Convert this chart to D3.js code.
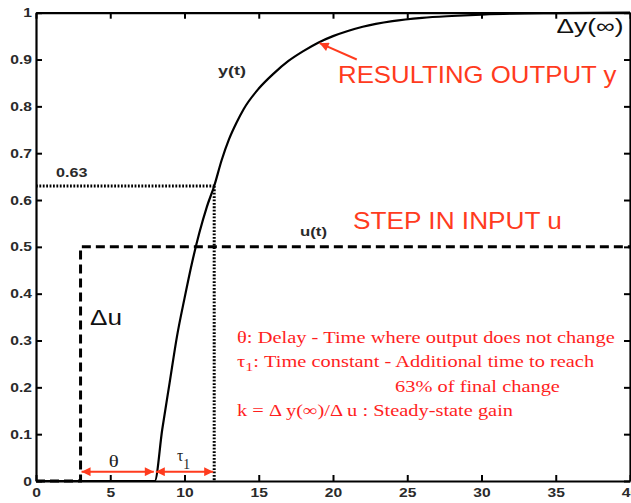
<!DOCTYPE html>
<html>
<head>
<meta charset="utf-8">
<script src="https://cdn.jsdelivr.net/npm/d3@7"></script>
<style>
  body { margin: 0; background: #fff; }
  text { font-family: Arial, "Liberation Sans", sans-serif; }
  .serif { font-family: "Liberation Serif", "Times New Roman", serif; }
</style>
</head>
<body>
<svg id="chart" width="631" height="503"></svg>
<script>
// ticks
const xTicks = [0, 5, 10, 15, 20, 25, 30, 35, 40];
const yTicks = [0, 0.1, 0.2, 0.3, 0.4, 0.5, 0.6, 0.7, 0.8, 0.9, 1];

// output y(t)
const outT = [0, 8, 8.5, 9, 9.5, 10, 10.5, 11, 11.5, 12, 12.5, 13, 13.5, 14, 15, 16, 17, 18, 19, 20, 21, 22, 24, 26, 28, 30, 32, 35, 40];
const outY = [0, 0, 0.11, 0.21, 0.31, 0.39, 0.465, 0.53, 0.585, 0.63, 0.685, 0.73, 0.765, 0.795, 0.838, 0.87, 0.897, 0.918, 0.936, 0.95, 0.961, 0.97, 0.982, 0.989, 0.993, 0.996, 0.998, 0.999, 1.0];

// step input u(t)
const stepT = [0, 3, 3, 40];
const stepU = [0, 0, 0.5, 0.5];

// key times
const stepTime = 3;
const delayEnd = 8;
const tauEnd = 12;
const level63 = 0.63;

const explainLines = [
  'θ: Delay - Time where output does not change',
  'τ|1|: Time constant - Additional time to reach',
  '63% of final change',
  'k = Δ y(∞)/Δ u : Steady-state gain'
];

const svg = d3.select('#chart');
const x = d3.scaleLinear().domain([0, 40]).range([36, 630]);
const y = d3.scaleLinear().domain([0, 1]).range([481, 12.7]);

const red = '#ff3b1e';
const serifRed = '#ff1e1e';

// stretch a text horizontally to a target width (the original is a stretched picture)
function fit(t, w) {
  const b = t.node().getBBox();
  t.attr('transform', `translate(${b.x},0) scale(${w / b.width},1) translate(${-b.x},0)`);
}
// widen a tick label around its anchor point
function widen(t, s) {
  const b = t.node().getBBox();
  const a = t.attr('text-anchor') || d3.select(t.node().parentNode.parentNode).attr('text-anchor');
  const ax = a === 'end' ? b.x + b.width : a === 'middle' ? b.x + b.width / 2 : b.x;
  t.attr('transform', `translate(${ax},0) scale(${s},1) translate(${-ax},0)`);
}

// arrow markers
const defs = svg.append('defs');
defs.append('marker')
  .attr('id', 'head')
  .attr('viewBox', '0 0 10 10')
  .attr('refX', 10).attr('refY', 5)
  .attr('markerWidth', 5).attr('markerHeight', 4.5)
  .attr('markerUnits', 'strokeWidth')
  .attr('orient', 'auto-start-reverse')
  .append('path')
  .attr('d', 'M0,0 L10,5 L0,10 Z')
  .attr('fill', red);

// dotted 63% guides
svg.append('line')
  .attr('x1', x(0)).attr('x2', x(tauEnd))
  .attr('y1', y(level63)).attr('y2', y(level63))
  .attr('stroke', '#000').attr('stroke-width', 3)
  .attr('stroke-dasharray', '1.8,1.6');
svg.append('line')
  .attr('x1', x(tauEnd)).attr('x2', x(tauEnd))
  .attr('y1', y(level63)).attr('y2', y(0))
  .attr('stroke', '#000').attr('stroke-width', 3)
  .attr('stroke-dasharray', '1.8,1.6');

// step input
const stepLine = d3.line().x(d => x(d[0])).y(d => y(d[1]));
svg.append('path')
  .datum(stepT.map((t, i) => [t, stepU[i]]))
  .attr('d', stepLine)
  .attr('fill', 'none')
  .attr('stroke', '#000')
  .attr('stroke-width', 3)
  .attr('stroke-dasharray', '9,5');

// output curve
const outLine = d3.line().x(d => x(d[0])).y(d => y(d[1])).curve(d3.curveMonotoneX);
svg.append('path')
  .datum(outT.map((t, i) => [t, outY[i]]))
  .attr('d', outLine)
  .attr('fill', 'none')
  .attr('stroke', '#000')
  .attr('stroke-width', 2.2);

// axes (box with inward ticks)
const tickFont = g => g.selectAll('text')
  .attr('font-family', 'Arial, "Liberation Sans", sans-serif')
  .attr('font-size', 12.5).attr('font-weight', 'bold').attr('fill', '#2a2a2a');
const axStyle = g => {
  g.select('.domain').attr('stroke-width', 2.2).attr('stroke', '#000');
  g.selectAll('.tick line').attr('stroke-width', 2).attr('stroke', '#000');
};

svg.append('g')
  .attr('transform', `translate(0,${y(0)})`)
  .call(d3.axisBottom(x).tickValues(xTicks).tickSize(-6).tickSizeOuter(0).tickPadding(7).tickFormat(d3.format('d')))
  .call(axStyle).call(tickFont)
  .selectAll('text').each(function() { widen(d3.select(this), 1.25); });
svg.append('g')
  .attr('transform', `translate(0,${y(1)})`)
  .call(d3.axisTop(x).tickValues(xTicks).tickSize(-6).tickSizeOuter(0).tickFormat(''))
  .call(axStyle);
svg.append('g')
  .attr('transform', `translate(${x(0)},0)`)
  .call(d3.axisLeft(y).tickValues(yTicks).tickSize(-6).tickSizeOuter(0).tickPadding(4).tickFormat(d3.format('')))
  .call(axStyle).call(tickFont)
  .selectAll('text').each(function() { widen(d3.select(this), 1.25); });
svg.append('g')
  .attr('transform', `translate(${x(40)},0)`)
  .call(d3.axisRight(y).tickValues(yTicks).tickSize(-6).tickSizeOuter(0).tickFormat(''))
  .call(axStyle);

// black labels
const lab63 = svg.append('text')
  .attr('x', x(1.35)).attr('y', y(0.649))
  .attr('font-size', 13.5).attr('font-weight', 'bold').attr('fill', '#2a2a2a')
  .text(level63.toFixed(2));
fit(lab63, 32);

const labY = svg.append('text')
  .attr('x', x(12.26)).attr('y', y(0.867))
  .attr('font-size', 13).attr('font-weight', 'bold').attr('fill', '#2a2a2a')
  .text('y(t)');
fit(labY, 28);

const labU = svg.append('text')
  .attr('x', x(17.78)).attr('y', y(0.524))
  .attr('font-size', 13).attr('font-weight', 'bold').attr('fill', '#2a2a2a')
  .text('u(t)');
fit(labU, 27);

const labDy = svg.append('text')
  .attr('x', x(35.05)).attr('y', y(0.957))
  .attr('font-size', 20).attr('fill', '#111')
  .text('Δy(∞)');
fit(labDy, 67);

const labDu = svg.append('text')
  .attr('x', x(3.64)).attr('y', y(0.334))
  .attr('font-size', 22).attr('fill', '#111')
  .text('Δu');
fit(labDu, 32);

// red headings
const labOut = svg.append('text')
  .attr('x', x(20.34)).attr('y', y(0.85))
  .attr('font-size', 23).attr('fill', red)
  .text('RESULTING OUTPUT y');
fit(labOut, 279);

const labStep = svg.append('text')
  .attr('x', x(21.35)).attr('y', y(0.538))
  .attr('font-size', 23).attr('fill', red)
  .text('STEP IN INPUT u');
fit(labStep, 209);

// arrow to curve
svg.append('line')
  .attr('x1', x(21.6)).attr('y1', y(0.9))
  .attr('x2', x(19.1)).attr('y2', y(0.935))
  .attr('stroke', red).attr('stroke-width', 2)
  .attr('marker-end', 'url(#head)');

// theta and tau arrows
[[stepTime, delayEnd], [delayEnd, tauEnd]].forEach(([a, b]) => {
  svg.append('line')
    .attr('x1', x(a) + 1).attr('x2', x(b) - 1)
    .attr('y1', y(0.02)).attr('y2', y(0.02))
    .attr('stroke', red).attr('stroke-width', 2)
    .attr('marker-start', 'url(#head)')
    .attr('marker-end', 'url(#head)');
});

const thLab = svg.append('text').attr('class', 'serif')
  .attr('x', x(4.9)).attr('y', y(0.03))
  .attr('font-size', 17).attr('fill', '#222')
  .text('θ');
fit(thLab, 10);

const tauLab = svg.append('text').attr('class', 'serif')
  .attr('x', x(9.5)).attr('y', y(0.043))
  .attr('font-size', 16).attr('fill', '#222');
tauLab.append('tspan').text('τ');
tauLab.append('tspan').attr('dy', 8).attr('font-size', 14).text('1');
fit(tauLab, 13);

// explanation text (serif, red)
const lineX = [13.54, 13.54, 24.18, 13.54];
const lineV = [0.295, 0.244, 0.19, 0.139];
const lineW = [378, 358, 165, 276];
explainLines.forEach((s, i) => {
  const t = svg.append('text').attr('class', 'serif')
    .attr('x', x(lineX[i])).attr('y', y(lineV[i]))
    .attr('font-size', 16.5).attr('fill', serifRed);
  const parts = s.split('|');
  if (parts.length > 1) {
    t.append('tspan').text(parts[0]);
    t.append('tspan').attr('dy', 4).attr('font-size', 13).text(parts[1]);
    t.append('tspan').attr('dy', -4).text(parts[2]);
  } else {
    t.text(s);
  }
  fit(t, lineW[i]);
});
</script>
</body>
</html>
